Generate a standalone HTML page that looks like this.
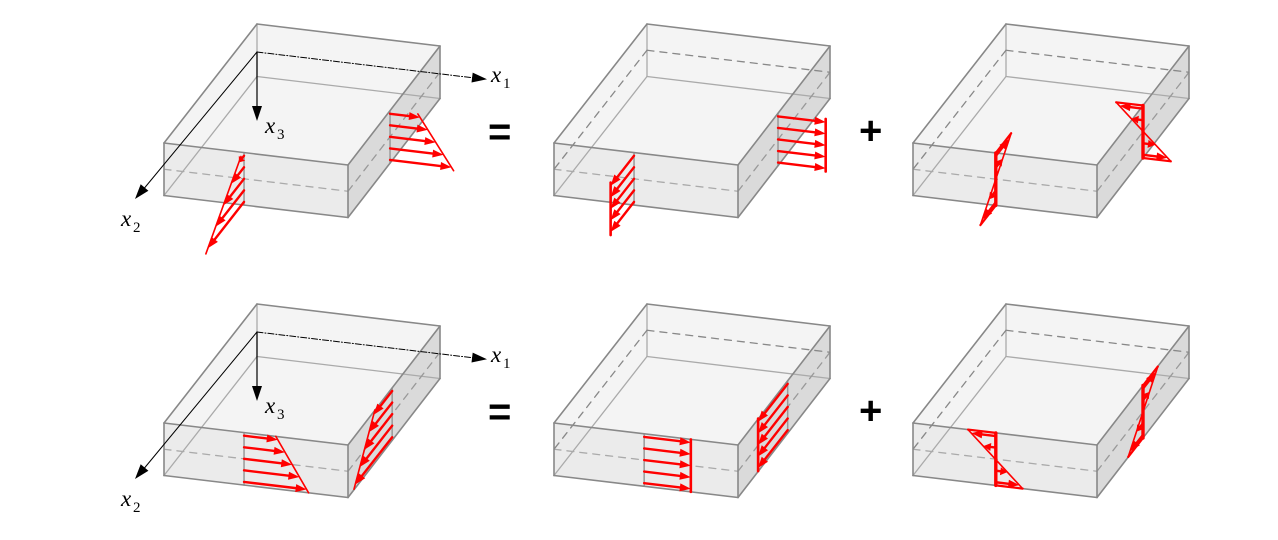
<!DOCTYPE html>
<html><head><meta charset="utf-8">
<style>
html,body{margin:0;padding:0;background:#fff;}
svg{display:block;}
.lab{font-family:"Liberation Serif",serif;font-style:italic;font-size:23px;fill:#000;}
.sub{font-family:"Liberation Serif",serif;font-size:15px;fill:#000;}
.op{font-family:"Liberation Sans",sans-serif;font-weight:bold;font-size:40px;fill:#000;}
</style></head>
<body>
<svg id="s" width="1278" height="540" viewBox="0 0 1278 540" xmlns="http://www.w3.org/2000/svg">
<g id="g"></g>
<text class="lab" x="491" y="82">x</text><text class="sub" x="503" y="88">1</text>
<text class="lab" x="265" y="133">x</text><text class="sub" x="277" y="139">3</text>
<text class="lab" x="121" y="226">x</text><text class="sub" x="133" y="232">2</text>
<text class="lab" x="491" y="362">x</text><text class="sub" x="503" y="368">1</text>
<text class="lab" x="265" y="413">x</text><text class="sub" x="277" y="419">3</text>
<text class="lab" x="121" y="506">x</text><text class="sub" x="133" y="512">2</text>
<text class="op" x="488" y="145">=</text>
<text class="op" x="859" y="144">+</text>
<text class="op" x="488" y="425">=</text>
<text class="op" x="859" y="424">+</text>
</svg>
<script>
var NS="http://www.w3.org/2000/svg",G=document.getElementById("g");
function el(t,a){var e=document.createElementNS(NS,t);for(var k in a)e.setAttribute(k,a[k]);G.appendChild(e);return e;}
function pts(a){return a.map(function(p){return p[0].toFixed(1)+","+p[1].toFixed(1)}).join(" ");}
function ln(p,q,st,w,da){var a={x1:p[0],y1:p[1],x2:q[0],y2:q[1],stroke:st,"stroke-width":w,"stroke-linecap":"round"};if(da)a["stroke-dasharray"]=da;el("line",a);}
function head(p,q,col,len,wid){var dx=q[0]-p[0],dy=q[1]-p[1],L=Math.hypot(dx,dy);if(L<1)return;dx/=L;dy/=L;
 var b=[q[0]-dx*len,q[1]-dy*len];el("polygon",{points:pts([q,[b[0]-dy*wid/2,b[1]+dx*wid/2],[b[0]+dy*wid/2,b[1]-dx*wid/2]]),fill:col});}
function arrow(p,q,col,w){var dx=q[0]-p[0],dy=q[1]-p[1],L=Math.hypot(dx,dy);if(L<3)return;
 var hl=Math.min(11,L*0.6);var e=[q[0]-dx/L*hl*0.7,q[1]-dy/L*hl*0.7];ln(p,e,col,w);head(p,q,col,hl,8);}
var e1=[0.993,0.119],e2=[-0.616,0.788];
function box(ox,oy,o){
 function P(x,y){return [x+ox,y+oy];}
 var A=P(257,24),B=P(440,46),C=P(164,143),D=P(348,165),h=52.5;
 function d(p,k){return [p[0],p[1]+k];}
 var A2=d(A,h),B2=d(B,h),C2=d(C,h),D2=d(D,h);
 el("polygon",{points:pts([A,B,D,C]),fill:"#f4f4f4"});
 el("polygon",{points:pts([C,D,D2,C2]),fill:"#ebebeb"});
 el("polygon",{points:pts([D,B,B2,D2]),fill:"#dadada"});
 var hid="#aaaaaa";
 ln(A,A2,hid,1.3);ln(A2,B2,hid,1.3);ln(A2,C2,hid,1.3);
 var m=h/2,dash="7,6";
 ln(d(C,m),d(D,m),"#aaa",1.3,dash);ln(d(D,m),d(B,m),"#999",1.3,dash);
 if(!o.axes){ln(d(A,m),d(B,m),"#888",1.3,dash);ln(d(A,m),d(C,m),"#888",1.3,dash);}
 var Ft=[C[0]+(D[0]-C[0])*o.t,C[1]+(D[1]-C[1])*o.t],Fb=d(Ft,h);
 var Rt=[D[0]+(B[0]-D[0])*o.s,D[1]+(B[1]-D[1])*o.s],Rb=d(Rt,h);
 ln(Ft,Fb,"#999",1.5);ln(Rt,Rb,"#999",1.5);
 var ec="#888";
 [[A,B],[B,D],[D,C],[C,A],[C,C2],[C2,D2],[D2,D],[D2,B2],[B2,B]].forEach(function(s){ln(s[0],s[1],ec,1.6);});
 if(o.axes){
  var O=d(A,28);
  ln(O,[O[0]+226,O[1]+27],"#000",1,"6,2,1,2");head(O,[O[0]+230,O[1]+27.3],"#000",15,10);
  ln(O,[O[0]-115,O[1]+139],"#000",1);head(O,[O[0]-122,O[1]+147],"#000",15,10);
  ln(O,[O[0],O[1]+58],"#000",1.2);head(O,[O[0],O[1]+69],"#000",15,10);
 }
 function set(top,bot,dir,f,env,thick){
  var red="#ff0000";
  if(thick)ln(top,bot,red,3.4);
  for(var i=0;i<5;i++){var u=0.06+i*0.22;var p=[top[0]+(bot[0]-top[0])*u,top[1]+(bot[1]-top[1])*u];
   var L=f(u);var q=[p[0]+dir[0]*L,p[1]+dir[1]*L];arrow(p,q,red,2.4);}
  var a0=top,a1=bot,L0=f(0),L1=f(1);
  var t0=[a0[0]+dir[0]*L0,a0[1]+dir[1]*L0],t1=[a1[0]+dir[0]*L1,a1[1]+dir[1]*L1];
  if(env=="lin")ln(t0,t1,red,1.6);
  if(env=="uni")ln(t0,t1,red,2.6);
  if(env=="zero"){ln(t0,a0,red,2.2);ln(t1,a1,red,2.2);ln(t0,t1,red,1.6);}
 }
 o.f(Ft,Fb,Rt,Rb,set);
}
box(0,0,{axes:1,t:0.435,s:0.457,f:function(Ft,Fb,Rt,Rb,set){
 set(Ft,Fb,e2,function(u){return 5+57*u},"lin");
 set(Rt,Rb,e1,function(u){return 28+36*u},"lin");}});
box(390,0,{t:0.435,s:0.435,f:function(Ft,Fb,Rt,Rb,set){
 set(Ft,Fb,e2,function(u){return 38},"uni");
 set(Rt,Rb,e1,function(u){return 48},"uni");}});
box(749,0,{t:0.45,s:0.5,f:function(Ft,Fb,Rt,Rb,set){
 set(Ft,Fb,e2,function(u){return -25+50*u},"zero",1);
 set(Rt,Rb,e1,function(u){return -27+55*u},"zero",1);}});
box(0,280,{axes:1,t:0.435,s:0.48,f:function(Ft,Fb,Rt,Rb,set){
 set(Ft,Fb,e1,function(u){return 32+33*u},"lin");
 set(Rt,Rb,e2,function(u){return 28+34*u},"lin");}});
box(390,280,{t:0.49,s:0.54,f:function(Ft,Fb,Rt,Rb,set){
 set(Ft,Fb,e1,function(u){return 47},"uni");
 set(Rt,Rb,e2,function(u){return 48},"uni");}});
box(749,280,{t:0.45,s:0.5,f:function(Ft,Fb,Rt,Rb,set){
 set(Ft,Fb,e1,function(u){return -28+55*u},"zero",1);
 set(Rt,Rb,e2,function(u){return -24+48*u},"zero",1);}});
</script>
</body></html>
